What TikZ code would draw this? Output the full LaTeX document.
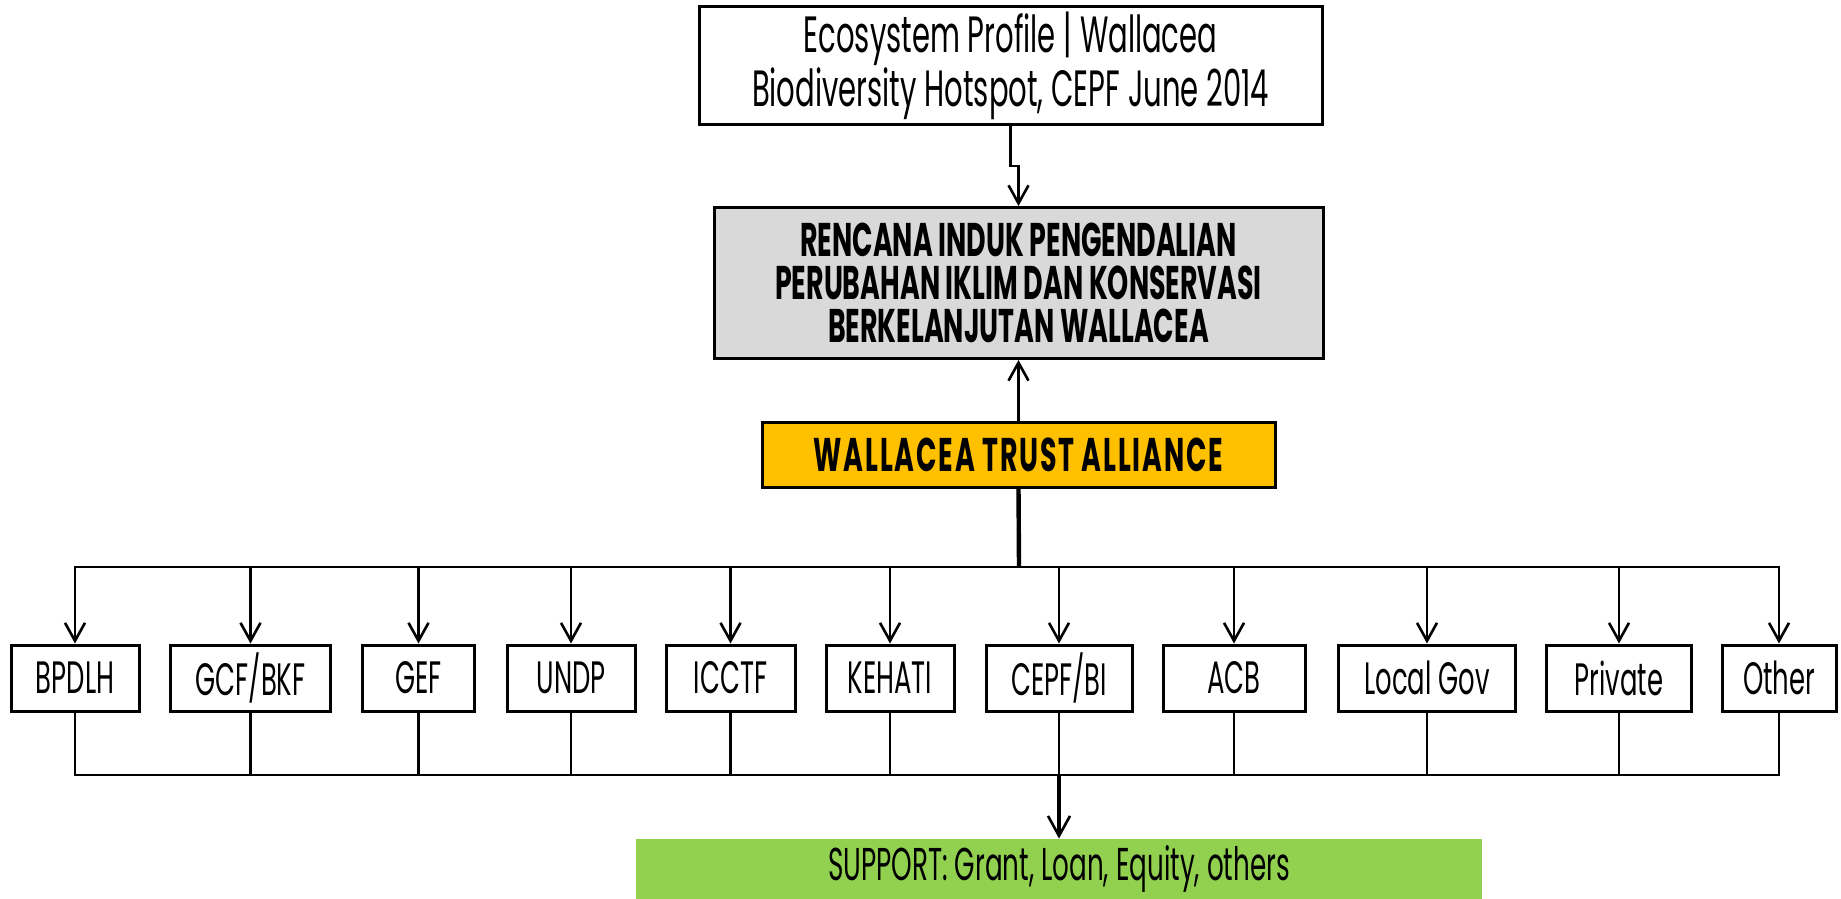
\documentclass[tikz,border=0pt]{standalone}
\usepackage{fontspec}
\setmainfont[FakeStretch=0.57]{Poppins}
\usetikzlibrary{arrows.meta}
\definecolor{grayfill}{HTML}{D9D9D9}
\definecolor{yellowfill}{HTML}{FFC000}
\definecolor{greenfill}{HTML}{92D050}
\begin{document}
\begin{tikzpicture}[x=0.5pt,y=-0.5pt,
  box/.style={draw=black, line width=1.5pt, inner sep=0pt, align=center, minimum height=33pt, font=\fontsize{22.7}{26}\selectfont},
  arr/.style={line width=1.3pt, -{Straight Barb[length=9pt,width=10pt,line width=1.3pt]}},
  conn/.style={line width=1.3pt},
  trunk/.style={line width=2.2pt}]
\useasboundingbox (0,0) rectangle (1841,899);
\node[box, minimum width=311.5pt, minimum height=59pt, font=\fontsize{25.5}{25}\selectfont] (top) at (1010.5,65.5) {Ecosystem Profile | Wallacea\\Biodiversity Hotspot, CEPF June 2014};
\node[box, fill=grayfill, minimum width=304.5pt, minimum height=75.5pt, font=\fontsize{23.6}{21.5}\selectfont\bfseries] (gray) at (1018.5,283) {RENCANA INDUK PENGENDALIAN\\PERUBAHAN IKLIM DAN KONSERVASI\\BERKELANJUTAN WALLACEA};
\node[box, fill=yellowfill, minimum width=256.5pt, minimum height=32.5pt, font=\fontsize{23.6}{22}\selectfont\bfseries\addfontfeature{LetterSpace=3.8}] (yellow) at (1018.5,454.5) {WALLACEA TRUST ALLIANCE};
\node[fill=greenfill, inner sep=0pt, minimum width=423pt, minimum height=30pt, font=\fontsize{23}{26}\selectfont] (green) at (1059,869) {SUPPORT: Grant, Loan, Equity, others};
\coordinate (split) at (1019,567);
\coordinate (join) at (1059,775);
\draw[arr] (top.south) -- ++(0,40) -| (gray.north);
\draw[arr] (yellow.north) -- (gray.south);
\draw[trunk] (yellow.south) -- (split);
\foreach \n/\x/\w/\t in {b1/75/128/BPDLH, b2/250.5/160/{GCF/BKF}, b3/418.5/112/GEF, b4/571/128/UNDP, b5/730.5/129/ICCTF, b6/890/128/KEHATI, b7/1059/146/{CEPF/BI}, b8/1234/142/ACB, b9/1427/177/{Local Gov}, b10/1619/145/Private, b11/1779/114/Other}{
  \node[box, minimum width=\w*0.5pt] (\n) at (\x,678) {\t};
  \draw[arr] (split) -| (\n.north);
  \draw[conn] (\n.south) |- (join);
}
\draw[trunk, -{Straight Barb[length=10pt,width=11pt,line width=1.3pt]}] (join) -- (green.north);
\end{tikzpicture}
\end{document}
